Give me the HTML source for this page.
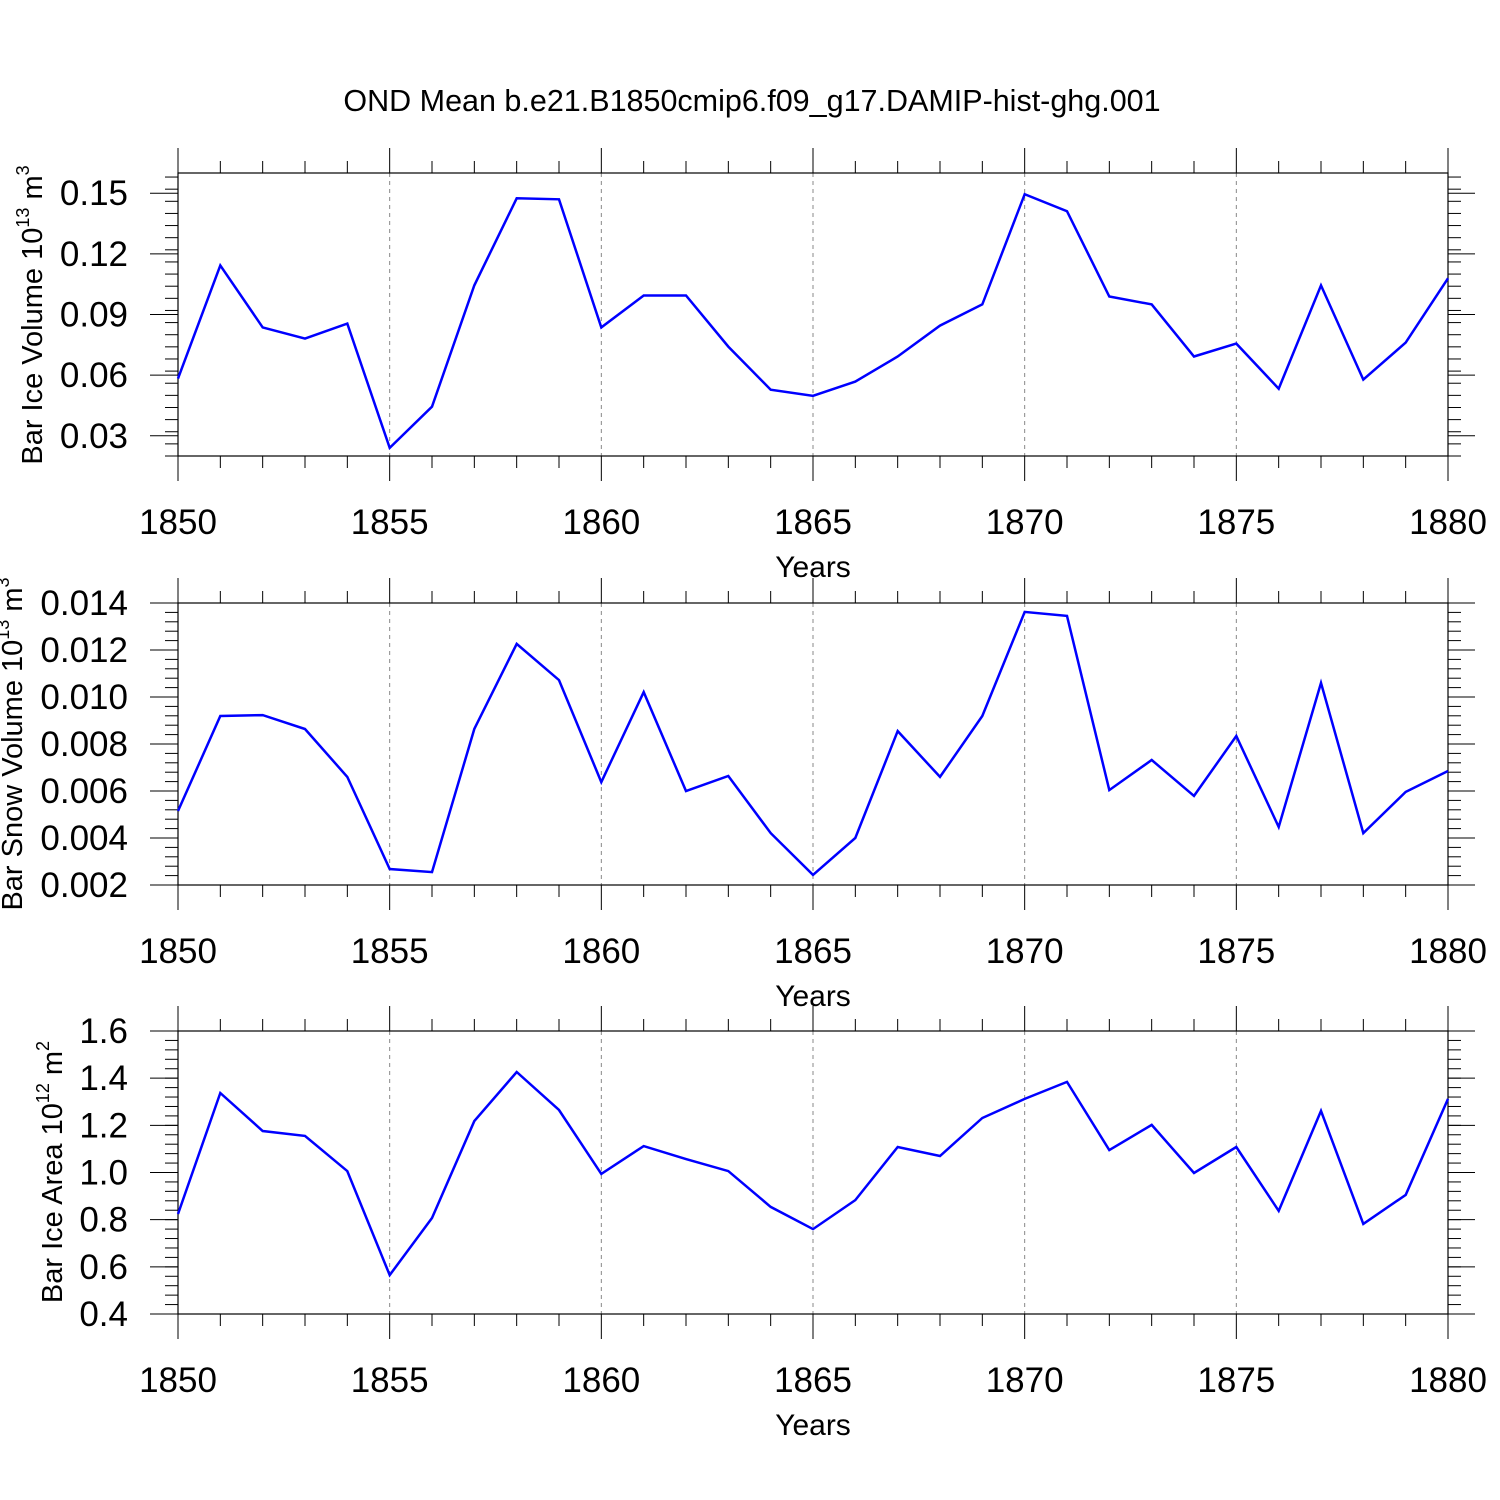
<!DOCTYPE html>
<html><head><meta charset="utf-8"><style>
html,body{margin:0;padding:0;background:#fff;}
svg{display:block;font-family:"Liberation Sans",sans-serif;}
</style></head><body>
<svg id="chart" width="1500" height="1500" xmlns="http://www.w3.org/2000/svg">
<rect width="1500" height="1500" fill="#fff"/>
<text x="752" y="111" font-size="30.5" text-anchor="middle">OND Mean b.e21.B1850cmip6.f09_g17.DAMIP-hist-ghg.001</text>
</svg>
<script>
const years = [];
for (let y = 1850; y <= 1880; y++) years.push(y);
const iceVolume = [0.0583,0.1143,0.0836,0.0781,0.0855,0.0240,0.0444,0.1044,0.1475,0.1470,0.0836,0.0994,0.0994,0.0741,0.0528,0.0498,0.0568,0.0692,0.0845,0.0950,0.1495,0.1411,0.0989,0.0950,0.0692,0.0756,0.0533,0.1044,0.0578,0.0761,0.1079];
const snowVolume = [0.00515,0.00919,0.00923,0.00864,0.0066,0.00268,0.00255,0.00864,0.01226,0.01072,0.00638,0.01021,0.0060,0.00664,0.00421,0.00243,0.0040,0.00855,0.0066,0.00919,0.01362,0.01345,0.00604,0.00732,0.00579,0.00834,0.00447,0.0106,0.00421,0.00596,0.00685];
const iceArea = [0.824,1.337,1.176,1.155,1.006,0.565,0.807,1.218,1.426,1.265,0.994,1.112,1.057,1.006,0.854,0.760,0.883,1.108,1.070,1.231,1.312,1.384,1.095,1.202,0.998,1.108,0.837,1.261,0.782,0.905,1.312];
const xTicks = [1850,1855,1860,1865,1870,1875,1880];
const ticks1 = ["0.03","0.06","0.09","0.12","0.15"];
const ticks2 = ["0.002","0.004","0.006","0.008","0.010","0.012","0.014"];
const ticks3 = ["0.4","0.6","0.8","1.0","1.2","1.4","1.6"];

const NS = "http://www.w3.org/2000/svg";
const svg = document.getElementById('chart');
function el(tag, attrs, parent){
  const e = document.createElementNS(NS, tag);
  for (const k in attrs) e.setAttribute(k, attrs[k]);
  (parent||svg).appendChild(e);
  return e;
}
const X0 = 178, X1 = 1448;
function xs(yr){ return X0 + (yr-1850)/30*(X1-X0); }

const panels = [
  {name:'ice-volume', data:iceVolume, ticks:ticks1, ymin:0.02, ymax:0.16, top:173, bot:456, minor:0.006, titleX:32, titleY:315,
   title:['Bar Ice Volume 10','13',' m','3']},
  {name:'snow-volume', data:snowVolume, ticks:ticks2, ymin:0.002, ymax:0.014, top:603, bot:885, minor:0.0004, titleX:12, titleY:744,
   title:['Bar Snow Volume 10','13',' m','3']},
  {name:'ice-area', data:iceArea, ticks:ticks3, ymin:0.4, ymax:1.6, top:1031, bot:1314, minor:0.04, titleX:52, titleY:1172,
   title:['Bar Ice Area 10','12',' m','2']}
];

panels.forEach(p=>{
  const g = el('g',{});
  
  
  const ys = v => p.bot - (v-p.ymin)/(p.ymax-p.ymin)*(p.bot-p.top);
  xTicks.slice(1,-1).forEach(t=>{
    const l = el('line',{x1:xs(t),x2:xs(t),y1:p.top,y2:p.bot,stroke:'#888','stroke-width':1,'stroke-dasharray':'4,4'},g);
    
    
  });
  years.forEach(yr=>{
    const major = xTicks.includes(yr);
    const len = major?25:12;
    el('line',{x1:xs(yr),x2:xs(yr),y1:p.top-len,y2:p.top,stroke:'#000','stroke-width':1},g);
    el('line',{x1:xs(yr),x2:xs(yr),y1:p.bot,y2:p.bot+len,stroke:'#000','stroke-width':1},g);
  });
  const nMin = Math.round((p.ymax-p.ymin)/p.minor);
  for(let i=0;i<=nMin;i++){
    const v = p.ymin + i*p.minor, y = ys(v);
    el('line',{x1:X0-13,x2:X0,y1:y,y2:y,stroke:'#000','stroke-width':1},g);
    el('line',{x1:X1,x2:X1+13,y1:y,y2:y,stroke:'#000','stroke-width':1},g);
  }
  p.ticks.forEach(t=>{
    const y = ys(parseFloat(t));
    el('line',{x1:X0-28,x2:X0,y1:y,y2:y,stroke:'#000','stroke-width':1},g);
    el('line',{x1:X1,x2:X1+27,y1:y,y2:y,stroke:'#000','stroke-width':1},g);
    const tx = el('text',{x:128,y:y+12,'font-size':35,'text-anchor':'end'},g);
    tx.textContent = t;
    
    
  });
  xTicks.forEach(t=>{
    const tx = el('text',{x:xs(t),y:p.bot+78,'font-size':35,'text-anchor':'middle'},g);
    tx.textContent = t;
    
    
  });
  const xt = el('text',{x:813,y:p.bot+121,'font-size':30,'text-anchor':'middle'},g);
  xt.textContent='Years';
  
  
  const yt = el('text',{x:0,y:0,'font-size':29,'text-anchor':'middle',transform:`translate(${p.titleX+10},${p.titleY}) rotate(-90)`},g);
  
  
  const s1 = el('tspan',{},yt); s1.textContent=p.title[0];
  const s2 = el('tspan',{dy:-13,'font-size':18},yt); s2.textContent=p.title[1];
  const s3 = el('tspan',{dy:13},yt); s3.textContent=p.title[2];
  const s4 = el('tspan',{dy:-13,'font-size':18},yt); s4.textContent=p.title[3];
  const fr = el('rect',{x:X0,y:p.top,width:X1-X0,height:p.bot-p.top,fill:'none',stroke:'#000','stroke-width':1.2},g);
  
  
  const pts = p.data.map((v,i)=>xs(years[i]).toFixed(1)+','+ys(v).toFixed(1)).join(' ');
  const line = el('polyline',{points:pts,fill:'none',stroke:'#0000ff','stroke-width':2.5,'stroke-linejoin':'miter'},g);
  
  
});
</script>
</body></html>
